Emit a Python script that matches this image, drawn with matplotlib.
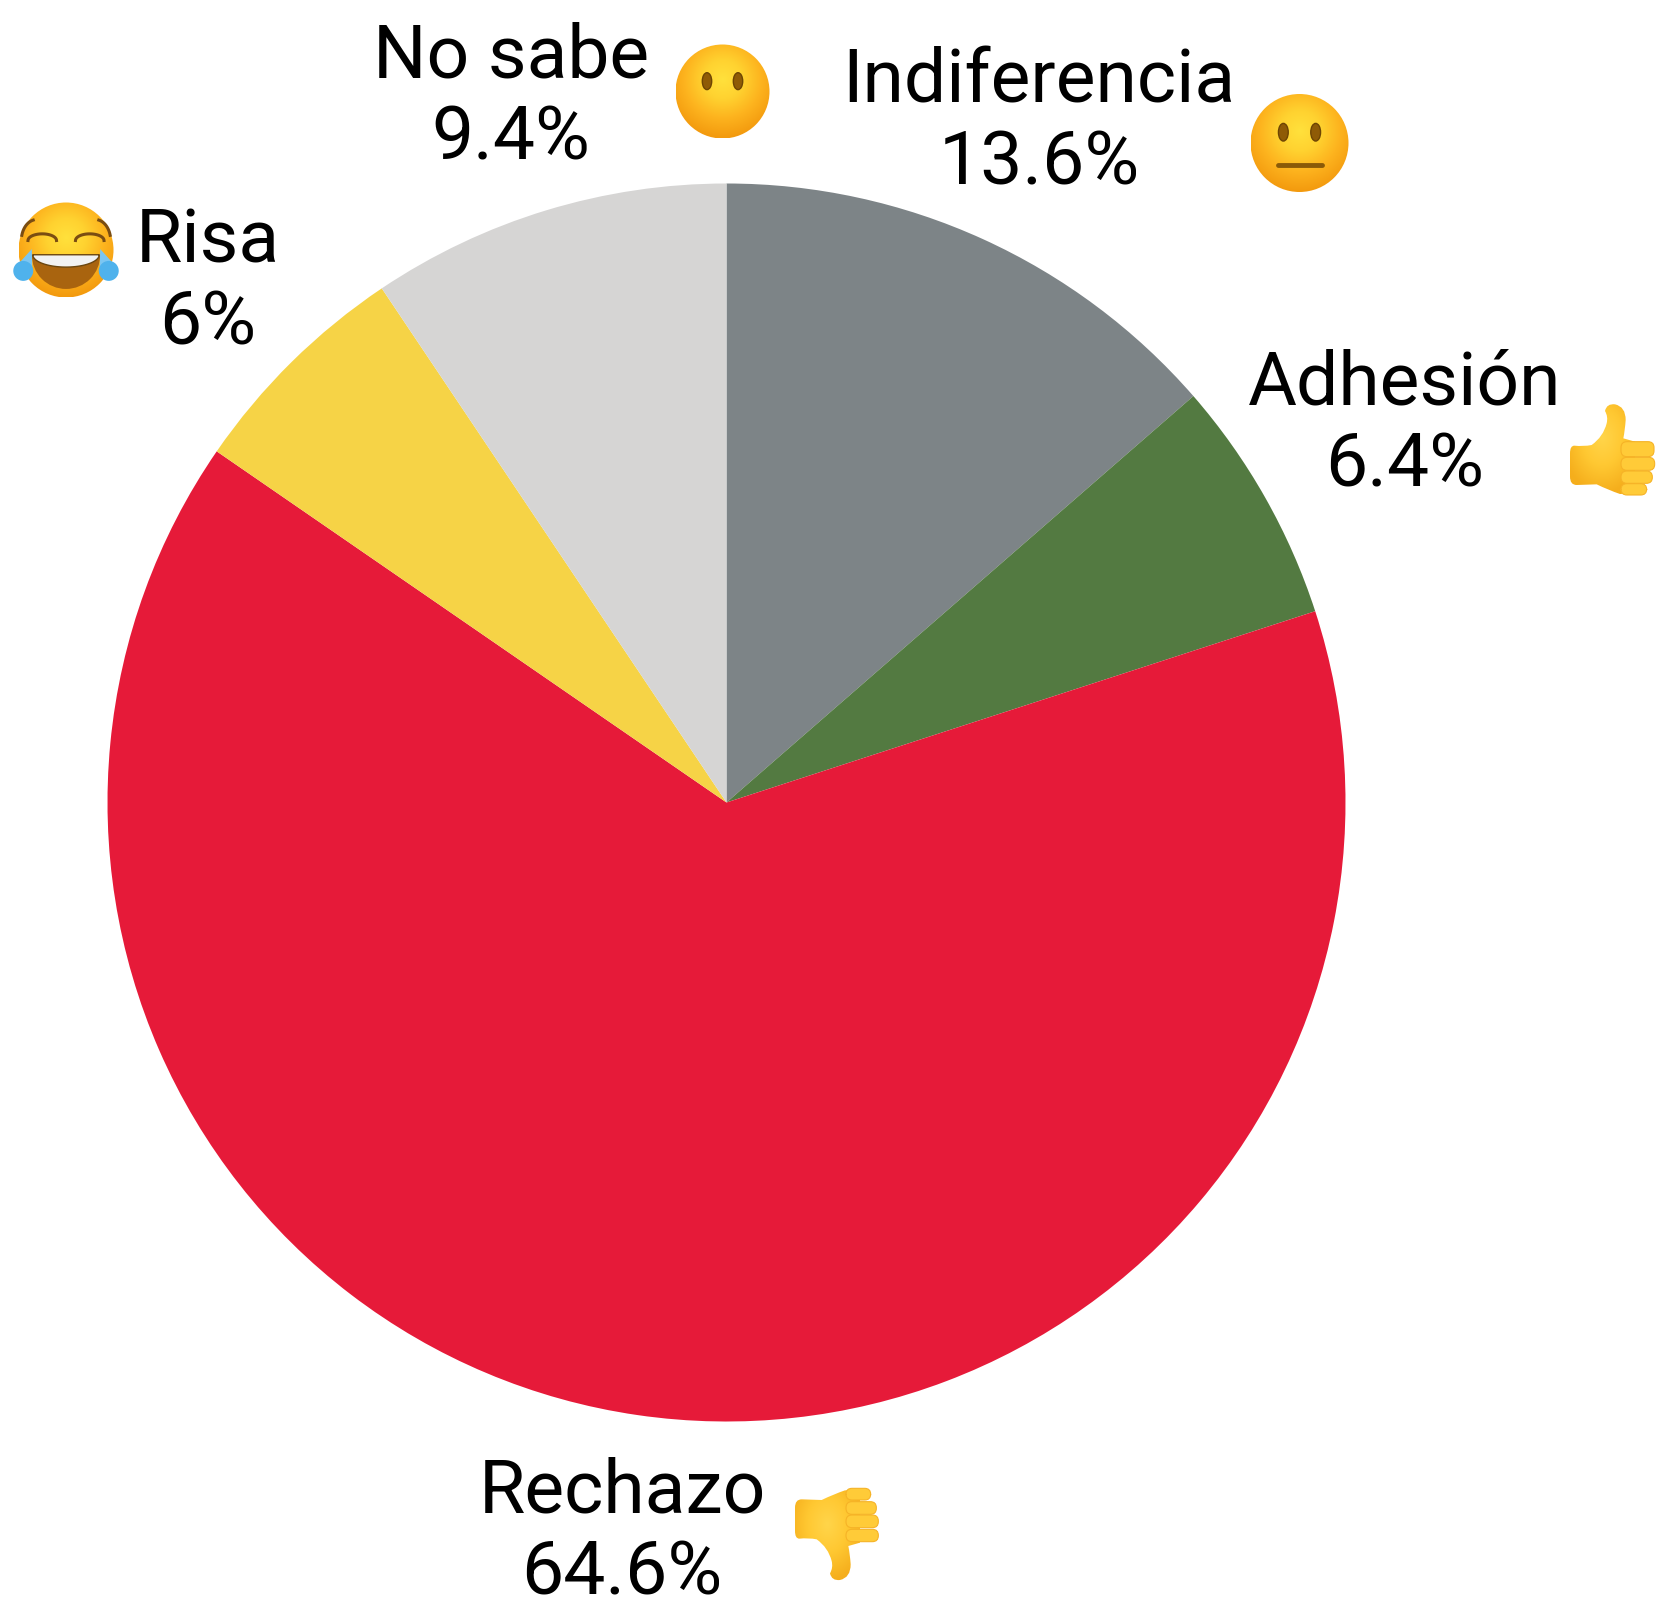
import numpy as np
import matplotlib
matplotlib.use("Agg")
import matplotlib.pyplot as plt
from matplotlib.patches import Circle, Ellipse, FancyBboxPatch, PathPatch, Polygon, Wedge
from matplotlib.path import Path
from matplotlib.colors import LinearSegmentedColormap

categories = ["Indiferencia", "Adhesión", "Rechazo", "Risa", "No sabe"]
values = [13.6, 6.4, 64.6, 6, 9.4]
colors = ["#7D8487", "#537A41", "#E61A39", "#F6D346", "#D6D5D4"]
label_x = [1039, 1405, 622, 208, 511]
label_y = [123, 425, 1533, 283, 98]

W, H = 1675, 1598
CX, CY, R = 726.5, 802.5, 619

face_cmap = LinearSegmentedColormap.from_list("face", ["#FFE13C", "#FFD230", "#FDB31E", "#F39A0E"])
hand_cmap = LinearSegmentedColormap.from_list("hand", ["#FFD54A", "#FFC832", "#F5AE1C"])

fig = plt.figure(figsize=(W / 100, H / 100), dpi=100)
ax_pie = fig.add_axes([0, 0, 1, 1])
ax_pie.pie(values, colors=colors, startangle=90, counterclock=False,
           center=(CX, H - CY), radius=R, wedgeprops={"linewidth": 0})
ax_pie.set_xlim(0, W)
ax_pie.set_ylim(0, H)
ax_pie.set_aspect("auto")

# second axes in picture coordinates, y going down
ax = fig.add_axes([0, 0, 1, 1])
ax.patch.set_alpha(0)
ax.axis("off")


def gradient(patch, cmap, box, z):
    x0, x1, y0, y1 = box
    yy, xx = np.mgrid[-1:1:120j, -1:1:120j]
    img = ax.imshow(np.clip(np.hypot(xx, yy + 0.25) / 1.25, 0, 1), cmap=cmap, vmin=0, vmax=1,
                    extent=(x0, x1, y1, y0), aspect="auto", zorder=z, interpolation="bilinear")
    ax.add_patch(patch)
    patch.set_facecolor("none")
    patch.set_edgecolor("none")
    img.set_clip_path(patch)


def face(x, y, r):
    gradient(Circle((x, y), r), face_cmap, (x - r, x + r, y - r, y + r), 3)


def eyes(x, y, r):
    for s in (-1, 1):
        ax.add_patch(Ellipse((x + s * 0.33 * r, y - 0.22 * r), 0.2 * r, 0.36 * r, fc="#8F5B06", ec="#6E4503",
                             lw=1, zorder=4))


def crying_face(x, y, r):
    face(x, y, r)
    brown = "#7A4D12"
    for s in (-1, 1):
        ex = x + s * 0.5 * r
        t = np.linspace(0, np.pi, 30)
        ax.plot(ex + 0.3 * r * np.cos(t), y - 0.2 * r - 0.14 * r * np.sin(t), color=brown, lw=2.2, zorder=4)
        b = np.linspace(0.25, 1.35, 20)
        ax.plot(x + s * (0.62 * r + 0.32 * r * np.cos(b)), y - 0.2 * r - 0.44 * r * np.sin(b),
                color=brown, lw=2.2, zorder=4)
    ax.add_patch(Wedge((x, y + 0.1 * r), 0.72 * r, 0, 180, fc="#A9640F", ec="none", zorder=4))
    t = np.linspace(0.0, np.pi, 40)
    band = np.c_[x + 0.7 * r * np.cos(t), y + 0.1 * r + 0.26 * r * np.sin(t)]
    ax.add_patch(Polygon(band, fc="#F2F2F2", ec="#6B460F", lw=1, zorder=5))
    for s in (-1, 1):
        dx = x + s * 0.9 * r
        ax.add_patch(Polygon([(dx - s * 0.19 * r, y + 0.36 * r), (dx + s * 0.2 * r, y + 0.4 * r),
                              (x + s * 0.72 * r, y - 0.02 * r)], fc="#7CC6F2", ec="none", zorder=6))
        ax.add_patch(Circle((dx, y + 0.44 * r), 0.21 * r, fc="#4FB2EC", ec="none", zorder=6))


HAND = [
    (Path.MOVETO, 58, 152), (Path.CURVE3, 85, 155), (Path.CURVE3, 110, 150),
    (Path.CURVE3, 145, 125), (Path.CURVE3, 155, 85), (Path.CURVE3, 160, 65), (Path.CURVE3, 150, 48),
    (Path.CURVE3, 155, 25), (Path.CURVE3, 180, 28), (Path.CURVE3, 212, 35), (Path.CURVE3, 212, 75),
    (Path.CURVE3, 210, 105), (Path.CURVE3, 205, 130), (Path.LINETO, 240, 140), (Path.LINETO, 240, 295),
    (Path.LINETO, 195, 297), (Path.CURVE3, 160, 285), (Path.CURVE3, 125, 268), (Path.LINETO, 65, 270),
    (Path.CURVE3, 45, 270), (Path.CURVE3, 45, 245), (Path.LINETO, 45, 175),
    (Path.CURVE3, 45, 152), (Path.CURVE3, 58, 152),
]


def hand(ox, oy, flip, fingers):
    fy = (lambda v: oy + (343 - v) / 3) if flip else (lambda v: oy + v / 3)
    xs = [ox + p[1] / 3 for p in HAND]
    ys = [fy(p[2]) for p in HAND]
    patch = PathPatch(Path(np.c_[xs, ys], [p[0] for p in HAND]))
    gradient(patch, hand_cmap, (min(xs), max(xs), min(ys), max(ys)), 3)
    for top, bottom, right in fingers:
        y0, y1 = sorted((fy(top), fy(bottom)))
        ax.add_patch(FancyBboxPatch((ox + 198 / 3 + 4, y0 + 4), (right - 198) / 3 - 8, y1 - y0 - 8,
                                    boxstyle="round,pad=4,rounding_size=6", fc="#FFCB38", ec="#F6B327",
                                    lw=0.8, zorder=4))


face(722.5, 91.5, 47)
eyes(722.5, 91.5, 47)

face(1299.5, 143, 49)
eyes(1299.5, 143, 49)
ax.plot([1299.5 - 22, 1299.5 + 22], [143 + 22, 143 + 22], color="#8A5A08", lw=3.5, solid_capstyle="round", zorder=4)

crying_face(66, 250, 47.5)

hand(1555, 395, False, [(140, 185, 297), (187, 226, 299), (228, 265, 292), (266, 300, 275)])
hand(780, 1475, True, [(143, 180, 295), (185, 223, 295), (225, 263, 289), (268, 303, 272)])

for name, value, x, y in zip(categories, values, label_x, label_y):
    ax.text(x, y, f"{name}\n{value:g}%", family="Roboto", fontsize=54, color="black",
            ha="center", va="center", linespacing=1.18, zorder=8)

ax.set_xlim(0, W)
ax.set_ylim(H, 0)

fig.savefig("out.png", dpi=100, facecolor="white")
